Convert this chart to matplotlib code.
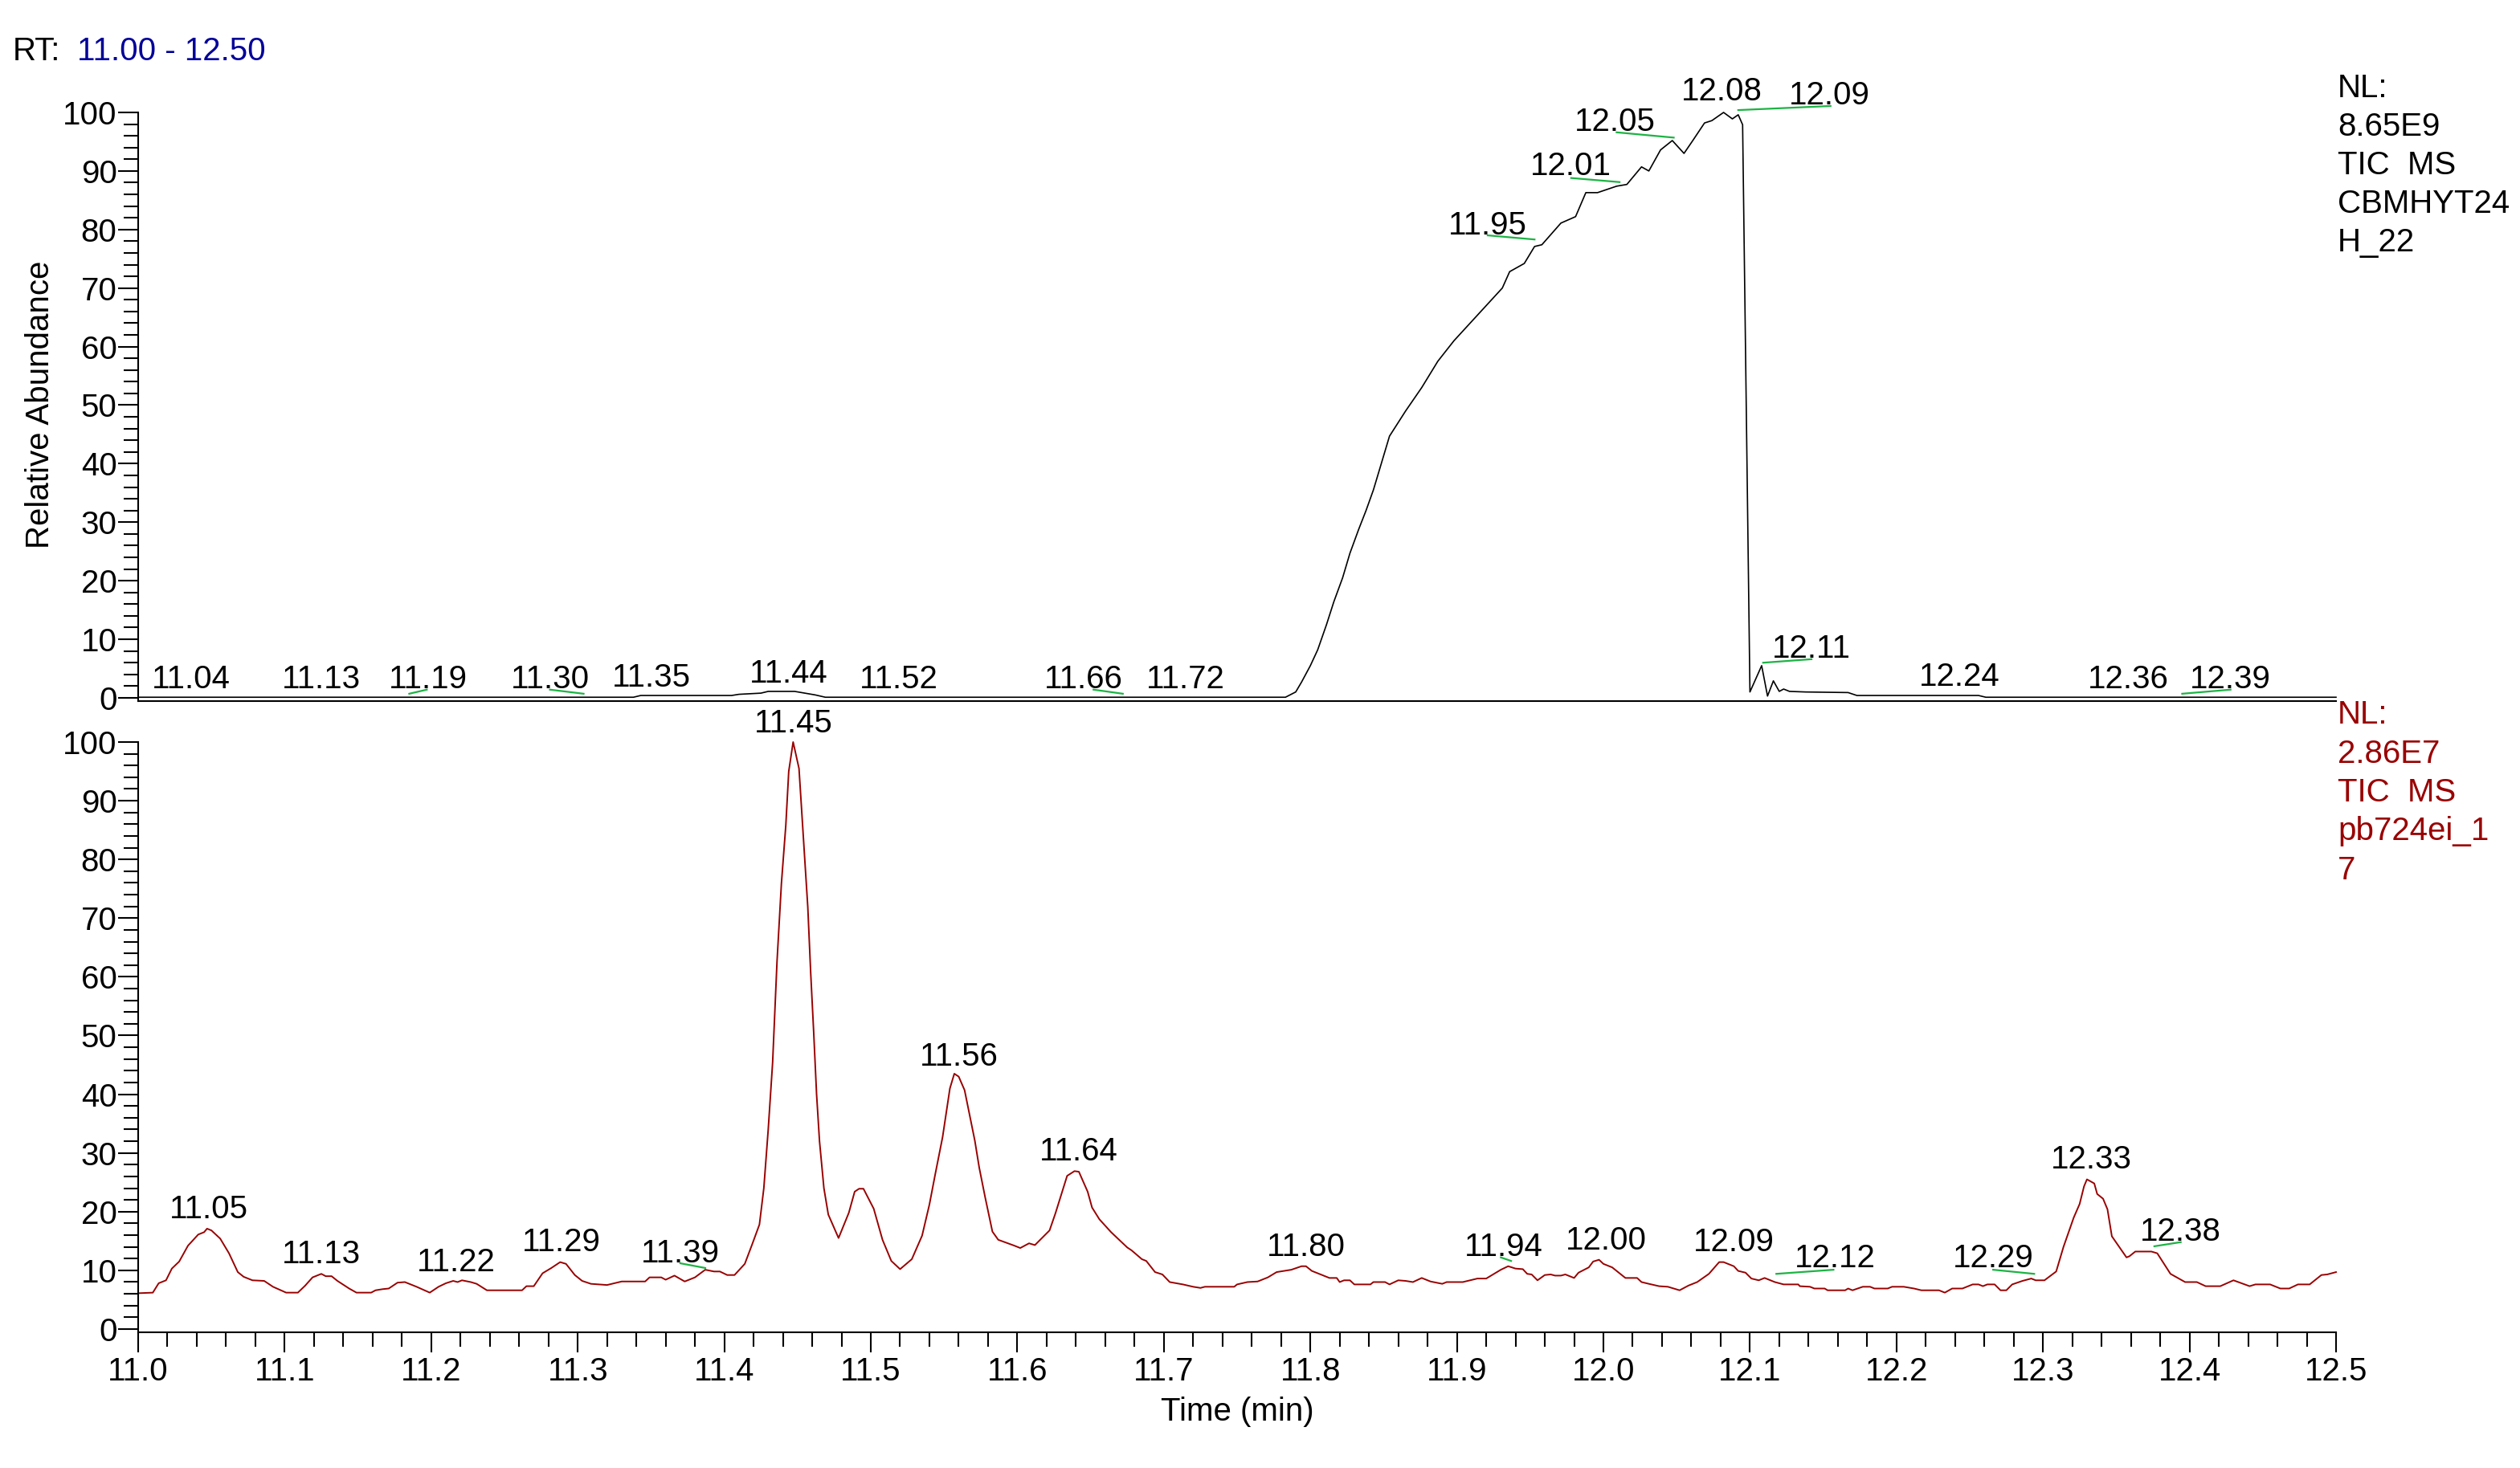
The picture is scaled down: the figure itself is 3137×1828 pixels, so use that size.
import matplotlib
matplotlib.use('Agg')
import matplotlib.pyplot as plt
from matplotlib.ticker import MultipleLocator, FormatStrFormatter

plt.rcParams['font.family'] = ['Liberation Sans', 'DejaVu Sans']
plt.rcParams['font.size'] = 29

# upper trace (TIC MS CBMHYT24H_22), relative abundance vs retention time
rt_top = [11.000, 11.338, 11.343, 11.405, 11.410, 11.425, 11.430, 11.448, 11.455, 11.462,
          11.469, 11.783, 11.790, 11.794, 11.800, 11.805, 11.811, 11.816, 11.822, 11.827,
          11.833, 11.838, 11.843, 11.846, 11.854, 11.865, 11.876, 11.887, 11.898, 11.909,
          11.920, 11.931, 11.936, 11.946, 11.953, 11.958, 11.971, 11.981, 11.988, 11.996,
          12.009, 12.016, 12.026, 12.031, 12.039, 12.047, 12.055, 12.061, 12.069, 12.074,
          12.082, 12.088, 12.092, 12.095, 12.100, 12.108, 12.112, 12.116, 12.120, 12.123,
          12.127, 12.138, 12.167, 12.173, 12.256, 12.261, 12.500]
ab_top = [0.1, 0.1, 0.4, 0.4, 0.6, 0.8, 1.1, 1.1, 0.8, 0.5,
          0.1, 0.1, 1.0, 2.7, 5.5, 8.2, 12.5, 16.4, 20.5, 24.7,
          28.8, 32.0, 35.5, 38.0, 44.7, 49.0, 53.0, 57.5, 61.0, 64.0,
          67.0, 70.0, 72.8, 74.2, 77.1, 77.4, 81.1, 82.2, 86.3, 86.3,
          87.4, 87.7, 90.7, 90.0, 93.6, 95.2, 93.0, 95.2, 98.2, 98.6,
          100.0, 98.9, 99.6, 97.9, 1.0, 5.5, 0.3, 2.9, 1.1, 1.5,
          1.1, 1.0, 0.9, 0.4, 0.4, 0.1, 0.1]

# lower trace (TIC MS pb724ei_17)
rt_bot = [11.000, 11.010, 11.014, 11.019, 11.023, 11.028, 11.034, 11.041, 11.045, 11.047,
          11.050, 11.056, 11.062, 11.068, 11.072, 11.078, 11.086, 11.092, 11.101, 11.109,
          11.114, 11.119, 11.125, 11.128, 11.132, 11.136, 11.144, 11.149, 11.159, 11.162,
          11.167, 11.171, 11.177, 11.182, 11.190, 11.199, 11.205, 11.210, 11.215, 11.218,
          11.221, 11.227, 11.231, 11.238, 11.262, 11.265, 11.270, 11.276, 11.282, 11.288,
          11.292, 11.298, 11.303, 11.309, 11.320, 11.330, 11.346, 11.349, 11.357, 11.360,
          11.366, 11.373, 11.380, 11.387, 11.393, 11.397, 11.402, 11.407, 11.414, 11.419,
          11.424, 11.427, 11.430, 11.433, 11.436, 11.439, 11.442, 11.444, 11.447, 11.451,
          11.454, 11.457, 11.459, 11.461, 11.463, 11.465, 11.468, 11.471, 11.478, 11.485,
          11.489, 11.492, 11.495, 11.502, 11.508, 11.514, 11.520, 11.528, 11.535, 11.540,
          11.544, 11.549, 11.554, 11.557, 11.560, 11.564, 11.571, 11.574, 11.578, 11.583,
          11.587, 11.598, 11.602, 11.608, 11.612, 11.622, 11.626, 11.630, 11.634, 11.639,
          11.642, 11.648, 11.651, 11.656, 11.664, 11.675, 11.678, 11.685, 11.688, 11.694,
          11.699, 11.704, 11.713, 11.720, 11.725, 11.728, 11.748, 11.750, 11.757, 11.764,
          11.771, 11.777, 11.787, 11.794, 11.797, 11.801, 11.807, 11.813, 11.818, 11.820,
          11.823, 11.827, 11.830, 11.841, 11.843, 11.851, 11.854, 11.860, 11.865, 11.870,
          11.876, 11.882, 11.890, 11.893, 11.899, 11.904, 11.909, 11.914, 11.920, 11.924,
          11.930, 11.935, 11.940, 11.945, 11.948, 11.951, 11.955, 11.960, 11.964, 11.967,
          11.971, 11.974, 11.980, 11.983, 11.990, 11.993, 11.997, 12.000, 12.006, 12.015,
          12.023, 12.026, 12.031, 12.038, 12.044, 12.052, 12.058, 12.064, 12.072, 12.079,
          12.082, 12.089, 12.092, 12.097, 12.101, 12.106, 12.110, 12.117, 12.123, 12.133,
          12.134, 12.141, 12.144, 12.151, 12.153, 12.165, 12.167, 12.170, 12.177, 12.182,
          12.185, 12.194, 12.197, 12.205, 12.212, 12.217, 12.229, 12.233, 12.238, 12.245,
          12.252, 12.256, 12.259, 12.262, 12.267, 12.271, 12.275, 12.279, 12.286, 12.292,
          12.295, 12.301, 12.309, 12.314, 12.321, 12.325, 12.328, 12.330, 12.335, 12.337,
          12.341, 12.344, 12.347, 12.357, 12.359, 12.363, 12.374, 12.378, 12.387, 12.397,
          12.405, 12.411, 12.421, 12.430, 12.441, 12.445, 12.455, 12.462, 12.468, 12.474,
          12.482, 12.490, 12.494, 12.500]
ab_bot = [6.1, 6.2, 7.8, 8.3, 10.3, 11.5, 14.2, 16.1, 16.5, 17.1,
          16.8, 15.4, 12.9, 9.7, 8.9, 8.3, 8.2, 7.2, 6.2, 6.2,
          7.4, 8.8, 9.4, 9.0, 9.0, 8.2, 6.9, 6.2, 6.2, 6.6,
          6.8, 6.9, 7.9, 8.0, 7.2, 6.2, 7.2, 7.8, 8.2, 8.0,
          8.3, 8.0, 7.7, 6.6, 6.6, 7.3, 7.3, 9.5, 10.4, 11.4,
          11.1, 9.2, 8.2, 7.7, 7.5, 8.1, 8.1, 8.8, 8.8, 8.4,
          9.1, 8.1, 8.8, 10.1, 9.8, 9.8, 9.2, 9.2, 11.1, 14.4,
          17.8, 24.0, 34.0, 45.4, 62.6, 75.9, 85.8, 95.0, 100.0, 95.5,
          83.8, 71.9, 60.6, 50.7, 40.0, 32.0, 24.0, 19.5, 15.5, 19.8,
          23.4, 23.9, 23.9, 20.5, 15.2, 11.6, 10.2, 11.9, 15.9, 21.2,
          26.4, 32.7, 41.0, 43.5, 43.0, 40.7, 32.1, 27.5, 22.5, 16.6,
          15.2, 14.2, 13.8, 14.6, 14.3, 16.8, 19.7, 22.9, 26.1, 26.9,
          26.8, 23.4, 20.7, 18.7, 16.5, 13.9, 13.4, 11.9, 11.6, 9.7,
          9.3, 8.0, 7.6, 7.2, 7.0, 7.2, 7.2, 7.6, 8.0, 8.1,
          8.8, 9.7, 10.1, 10.7, 10.7, 9.9, 9.3, 8.7, 8.7, 8.0,
          8.3, 8.3, 7.6, 7.6, 8.0, 8.0, 7.6, 8.3, 8.2, 8.0,
          8.7, 8.1, 7.7, 8.0, 8.0, 8.0, 8.3, 8.6, 8.6, 9.2,
          10.1, 10.7, 10.3, 10.2, 9.4, 9.3, 8.3, 9.2, 9.3, 9.1,
          9.1, 9.3, 8.7, 9.6, 10.5, 11.5, 11.8, 11.1, 10.5, 8.7,
          8.7, 8.0, 7.7, 7.3, 7.2, 6.6, 7.4, 8.0, 9.4, 11.4,
          11.4, 10.7, 9.9, 9.6, 8.6, 8.3, 8.7, 8.0, 7.6, 7.6,
          7.3, 7.2, 6.9, 6.9, 6.6, 6.6, 6.9, 6.6, 7.2, 7.2,
          6.9, 6.9, 7.2, 7.2, 6.9, 6.6, 6.6, 6.2, 6.9, 6.9,
          7.6, 7.6, 7.3, 7.6, 7.6, 6.6, 6.6, 7.6, 8.2, 8.6,
          8.3, 8.3, 9.8, 14.0, 19.0, 21.3, 24.3, 25.5, 24.8, 23.0,
          22.2, 20.4, 15.8, 12.2, 12.4, 13.2, 13.2, 12.9, 9.4, 8.0,
          8.0, 7.3, 7.3, 8.3, 7.3, 7.6, 7.6, 6.9, 6.9, 7.6,
          7.6, 9.2, 9.3, 9.7]

# peak labels: text, label rt, label height (centre of text)
top_lbl = ['11.04', '11.13', '11.19', '11.30', '11.35', '11.44', '11.52', '11.66', '11.72',
           '11.95', '12.01', '12.05', '12.08', '12.09', '12.11', '12.24', '12.36', '12.39']
top_lbl_rt = [11.036, 11.125, 11.198, 11.281, 11.350, 11.444, 11.519, 11.645, 11.715,
              11.921, 11.978, 12.008, 12.081, 12.154, 12.142, 12.243, 12.358, 12.428]
top_lbl_ab = [3.7, 3.7, 3.7, 3.7, 4.0, 4.7, 3.7, 3.7, 3.7,
              81.2, 91.4, 98.9, 104.1, 103.4, 8.9, 4.1, 3.7, 3.7]
# green leader lines: rt start, ab start, rt end, ab end
top_lead = [(11.185, 0.7, 11.197, 1.4), (11.281, 1.4, 11.304, 0.7), (11.652, 1.4, 11.672, 0.7),
            (11.921, 79.0, 11.953, 78.3), (11.978, 88.8, 12.011, 88.1), (12.009, 96.6, 12.048, 95.7),
            (12.092, 100.4, 12.155, 101.1), (12.109, 6.0, 12.142, 6.6), (12.395, 0.7, 12.428, 1.4)]

bot_lbl = ['11.05', '11.13', '11.22', '11.29', '11.39', '11.45', '11.56', '11.64',
           '11.80', '11.94', '12.00', '12.09', '12.12', '12.29', '12.33', '12.38']
bot_lbl_rt = [11.048, 11.125, 11.217, 11.289, 11.370, 11.447, 11.560, 11.642,
              11.797, 11.932, 12.002, 12.089, 12.158, 12.266, 12.333, 12.394]
bot_lbl_ab = [20.9, 13.3, 12.0, 15.3, 13.5, 103.8, 46.9, 30.8,
              14.6, 14.6, 15.6, 15.3, 12.6, 12.6, 29.4, 17.1]
bot_lead = [(11.370, 11.2, 11.387, 10.4), (11.930, 12.2, 11.937, 11.6), (12.118, 9.4, 12.157, 10.1),
            (12.266, 10.1, 12.294, 9.4), (12.376, 14.1, 12.394, 14.8)]

top_info = ['NL:', '8.65E9', 'TIC  MS', 'CBMHYT24', 'H_22']
bot_info = ['NL:', '2.86E7', 'TIC  MS', 'pb724ei_1', '7']

W, H = 3137, 1828
fig = plt.figure(figsize=(W / 100, H / 100), dpi=100)
x0, x1 = 172, 2908
ax_top = fig.add_axes([x0 / W, 1 - 872.6 / H, (x1 - x0) / W, (872.6 - 140) / H])
ax_bot = fig.add_axes([x0 / W, 1 - 1658.6 / H, (x1 - x0) / W, (1658.6 - 924) / H])

red = '#990000'
green = '#1DB344'

def style(ax, show_x):
    ax.set_xlim(11.0, 12.5)
    ax.set_ylim(-0.5, 100)
    for s in ['top', 'right']:
        ax.spines[s].set_visible(False)
    for s in ['left', 'bottom']:
        ax.spines[s].set_linewidth(1.5)
    ax.yaxis.set_major_locator(MultipleLocator(10))
    ax.yaxis.set_minor_locator(MultipleLocator(2))
    ax.tick_params(axis='y', which='major', length=18, width=1.5, pad=1)
    ax.tick_params(axis='y', which='minor', length=13, width=1.5)
    if show_x:
        ax.xaxis.set_major_locator(MultipleLocator(0.1))
        ax.xaxis.set_minor_locator(MultipleLocator(0.02))
        ax.xaxis.set_major_formatter(FormatStrFormatter('%.1f'))
        ax.tick_params(axis='x', which='major', length=18, width=1.5, pad=4)
        ax.tick_params(axis='x', which='minor', length=13, width=1.5)
    else:
        ax.tick_params(axis='x', which='both', bottom=False, labelbottom=False)

style(ax_top, False)
style(ax_bot, True)

ax_top.plot(rt_top, ab_top, color='black', lw=1.2, clip_on=False)
ax_bot.plot(rt_bot, ab_bot, color=red, lw=1.4, clip_on=False)

def label_peaks(ax, names, rts, abs_, leads):
    for name, r, a in zip(names, rts, abs_):
        ax.annotate(name, xy=(r, a), xytext=(0, -11), textcoords='offset points',
                    ha='center', va='baseline', annotation_clip=False)
    for ra, aa, rb, ab in leads:
        ax.plot([ra, rb], [aa, ab], color=green, lw=1.6, clip_on=False)

label_peaks(ax_top, top_lbl, top_lbl_rt, top_lbl_ab, top_lead)
label_peaks(ax_bot, bot_lbl, bot_lbl_rt, bot_lbl_ab, bot_lead)

# NL / trace info at right
for i, line in enumerate(top_info):
    fig.text(2910 / W, 1 - (110 + 48 * i) / H, line, ha='left', va='center')
for i, line in enumerate(bot_info):
    fig.text(2910 / W, 1 - (890 + 48.5 * i) / H, line, ha='left', va='center', color=red)

fig.text(16 / W, 1 - 64 / H, 'RT:', ha='left', va='center')
fig.text(96 / W, 1 - 64 / H, '11.00 - 12.50', ha='left', va='center', color='#000099')

fig.text(50 / W, 1 - 504 / H, 'Relative Abundance', rotation=90, ha='center', va='center')
fig.text(1540 / W, 1 - 1758 / H, 'Time (min)', ha='center', va='center')

fig.savefig('out.png', dpi=100, facecolor='white')
